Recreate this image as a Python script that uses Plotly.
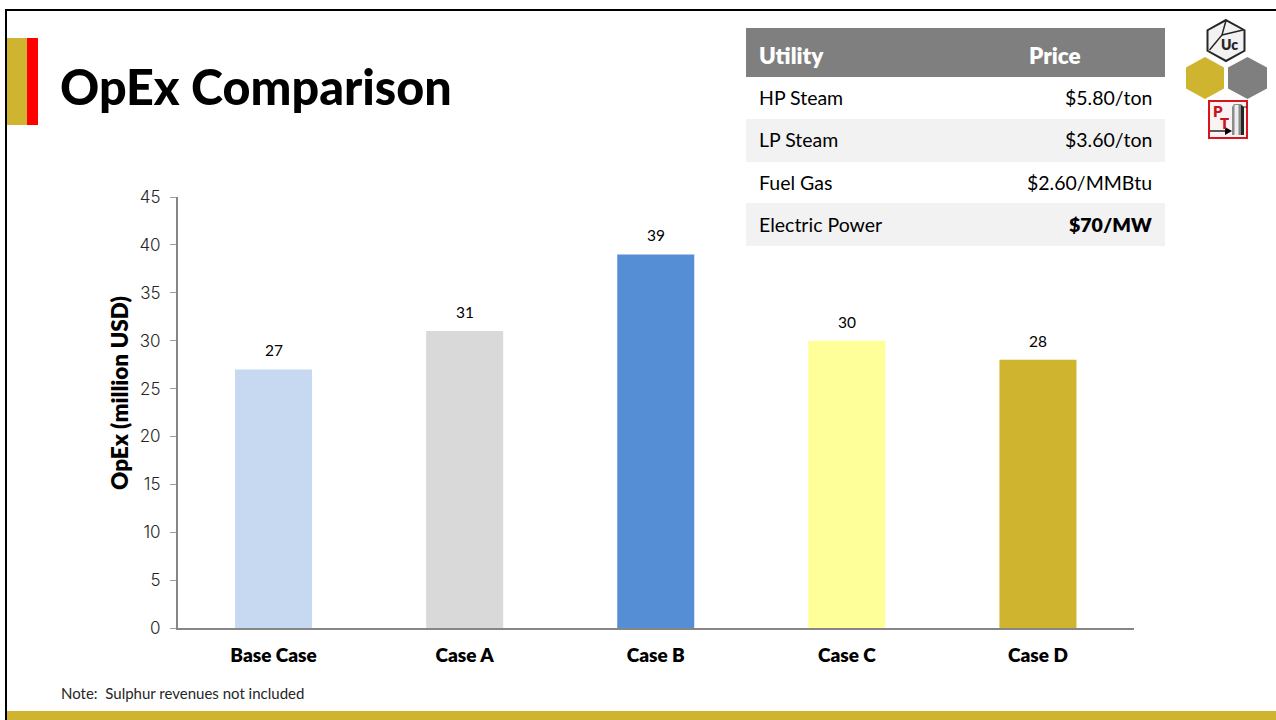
import plotly.graph_objects as go

# Operating cost per case, million USD
cases = ["Base Case", "Case A", "Case B", "Case C", "Case D"]
opex = [27, 31, 39, 30, 28]
bar_colors = ["#C6D9F1", "#D9D9D9", "#558ED5", "#FFFF99", "#CFB52F"]
y_ticks = [0, 5, 10, 15, 20, 25, 30, 35, 40, 45]

# Utility price table
utilities = ["HP Steam", "LP Steam", "Fuel Gas", "Electric Power"]
prices = ["$5.80/ton", "$3.60/ton", "$2.60/MMBtu", "$70/MW"]
price_weights = [400, 400, 400, 800]
row_edges = [77, 119, 162, 203, 246]

W, H = 1276, 720
FONT = "Lato"
GOLD = "#CFB52F"
GRAY = "#7F7F7F"


def px(x):
    return x / W


def py(y):
    return 1 - y / H


def rect(x0, y0, x1, y1, fill, line=None, width=0, layer="below"):
    return dict(type="rect", xref="paper", yref="paper",
                x0=px(x0), x1=px(x1), y0=py(y1), y1=py(y0),
                fillcolor=fill, line=dict(color=line, width=width) if line else dict(width=0),
                layer=layer)


def path(points, fill=None, line=None, width=0, close=True):
    d = "M " + " L ".join(f"{px(x):.5f},{py(y):.5f}" for x, y in points) + (" Z" if close else "")
    return dict(type="path", xref="paper", yref="paper", path=d,
                fillcolor=fill if fill else "rgba(0,0,0,0)",
                line=dict(color=line, width=width) if line else dict(width=0),
                layer="above")


def hexagon(cx, cy, rx, ry):
    return [(cx, cy - ry), (cx + rx, cy - ry / 2), (cx + rx, cy + ry / 2),
            (cx, cy + ry), (cx - rx, cy + ry / 2), (cx - rx, cy - ry / 2)]


def label(x, y, text, size, color="#000000", anchor="left", family=FONT, weight=400, **kw):
    return dict(xref="paper", yref="paper", x=px(x), y=py(y), text=text, showarrow=False,
                xanchor=anchor, yanchor="middle", borderpad=0, borderwidth=0,
                font=dict(family=family, size=size, color=color, weight=weight), **kw)


shapes = [
    # slide frame and footer
    rect(5, 9, W, 11, "#000000"),
    rect(5, 9, 7, H, "#000000"),
    rect(7, 711, W, H, GOLD),
    # title accent
    rect(7, 38, 27, 125, GOLD),
    rect(27, 38, 38, 125, "#FF0000"),
    # table header
    rect(746, 28, 1165, 77, GRAY),
]
for i in range(len(utilities)):
    if i % 2 == 1:
        shapes.append(rect(746, row_edges[i], 1165, row_edges[i + 1], "#F2F2F2"))

# logo
shapes += [
    path(hexagon(1226, 40.5, 18.5, 20.5), fill="#F2F2F2", line="#262626", width=2),
    path([(1226, 20.5), (1222, 35), (1209.5, 50)], line="#262626", width=1.5, close=False),
    path([(1222, 35), (1243, 30)], line="#262626", width=1.5, close=False),
    path(hexagon(1205, 78, 19, 21), fill=GOLD),
    path(hexagon(1247.5, 78, 19.5, 21), fill=GRAY),
    rect(1209, 101, 1247, 138, "#FBF3F3", "#D9141E", 2, layer="above"),
    # column vessel with a shaded body
    path([(1232, 107), (1234, 104), (1241, 104), (1244, 107), (1244, 135), (1232, 135)],
         fill="#8C8C8C"),
    path([(1234.5, 105), (1238.5, 105), (1238.5, 135), (1234.5, 135)], fill="#EDEDED"),
    path([(1241, 105), (1244, 107), (1244, 135), (1241, 135)], fill="#262626"),
    path([(1244, 107), (1247, 107)], line="#262626", width=1, close=False),
    path([(1210, 131), (1226, 131)], line="#262626", width=1.5, close=False),
    path([(1225, 127), (1232, 131), (1225, 135)], fill="#000000"),
]

annotations = [
    label(59.5, 86, "OpEx Comparison", 48.5, weight=900),
    label(61, 692.5, "Note:  Sulphur revenues not included", 15, color="#262626"),
    label(759, 56, "Utility", 22.5, color="#FFFFFF", weight=800),
    label(1055, 56, "Price", 22.5, color="#FFFFFF", anchor="center", weight=800),
    label(1229, 44, "Uc", 14, color="#262626", anchor="center", weight=800),
    label(1217.5, 111, "P", 15, color="#C8141E", anchor="center", weight=800),
    label(1224.5, 123, "T", 15, color="#C8141E", anchor="center", weight=800),
    label(119.5, 393.5, "OpEx (million USD)", 22.5, anchor="center", weight=800, textangle=-90),
]
for i, (name, price, wt) in enumerate(zip(utilities, prices, price_weights)):
    mid = (row_edges[i] + row_edges[i + 1]) / 2 - 0.5
    annotations.append(label(759, mid, name, 19.5))
    annotations.append(label(1152, mid, price, 19.5, anchor="right", weight=wt))

# Value labels sit a fixed distance above each bar
for case, value in zip(cases, opex):
    annotations.append(dict(xref="x", yref="y", x=case, y=value, yshift=19, text=str(value),
                            showarrow=False, xanchor="center", yanchor="middle",
                            font=dict(family=FONT, size=15.5, color="#000000")))

fig = go.Figure(go.Bar(
    x=cases, y=opex,
    marker=dict(color=bar_colors, line=dict(width=0)),
    width=0.403,
    hoverinfo="skip",
))

fig.update_layout(
    width=W, height=H, autosize=False,
    margin=dict(l=0, r=0, t=0, b=0),
    paper_bgcolor="#FFFFFF", plot_bgcolor="#FFFFFF",
    showlegend=False, bargap=0.597,
    shapes=shapes, annotations=annotations,
    xaxis=dict(
        domain=[px(178), px(1133.5)], automargin=False,
        showgrid=False, zeroline=False, showline=True, linecolor="#868686", linewidth=2,
        ticks="", tickfont=dict(family=FONT, size=19, color="#000000", weight=800),
        ticklabelstandoff=9,
    ),
    yaxis=dict(
        domain=[py(628), py(197)], automargin=False,
        range=[0, 45], tickvals=y_ticks,
        showgrid=False, zeroline=False, showline=True, linecolor="#868686", linewidth=2,
        ticks="outside", ticklen=6, tickwidth=1, tickcolor="#A0A0A0",
        ticklabelstandoff=6,
        tickfont=dict(family="Inter", size=17, color="#262626", weight=300),
    ),
)

fig.write_html("out.html")
